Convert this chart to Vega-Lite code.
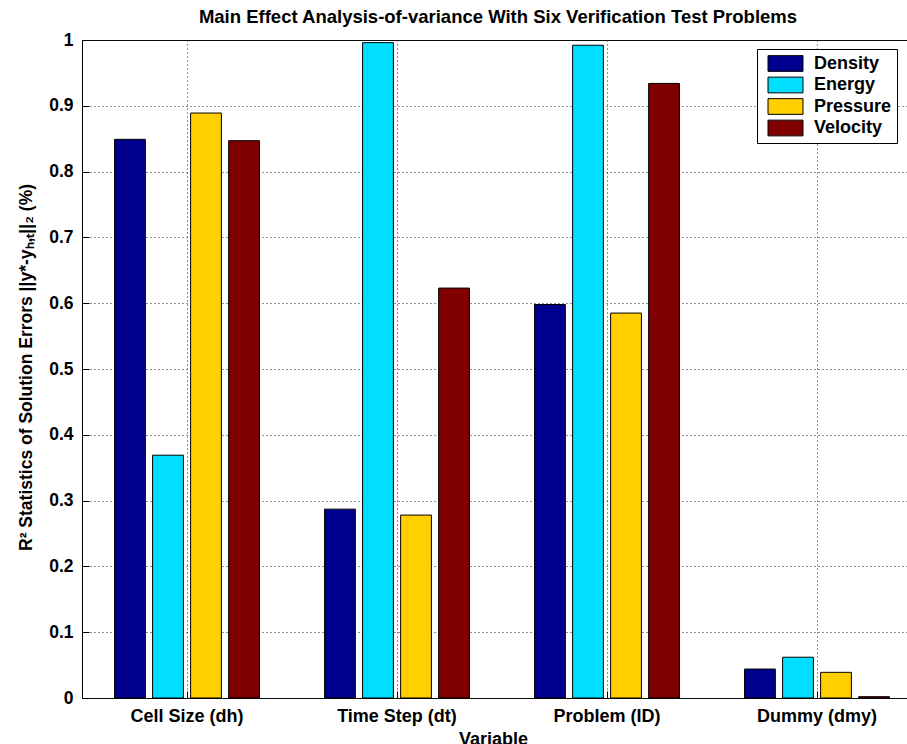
{
  "$schema": "https://vega.github.io/schema/vega-lite/v6.json",
  "width": 840,
  "height": 658,
  "autosize": "none",
  "padding": {"left": 82, "top": 40, "right": 0, "bottom": 46},
  "background": "white",
  "title": {
    "text": "Main Effect Analysis-of-variance With Six Verification Test Problems",
    "font": "Liberation Sans",
    "fontSize": 18.5,
    "fontWeight": "bold",
    "color": "black",
    "anchor": "middle",
    "frame": "group",
    "baseline": "alphabetic",
    "offset": 16,
    "dx": -4,
    "dy": 26
  },
  "config": {
    "view": {"stroke": "black", "strokeWidth": 1},
    "axis": {
      "labelFont": "Liberation Sans",
      "labelFontWeight": "bold",
      "labelColor": "black",
      "titleFont": "Liberation Sans",
      "titleFontWeight": "bold",
      "titleColor": "black",
      "domain": false,
      "tickColor": "black",
      "tickSize": -7,
      "grid": true,
      "gridColor": "#222222",
      "gridDash": [1, 3],
      "gridWidth": 1
    }
  },
  "data": {
    "values": [
      {"variable": "Cell Size (dh)", "quantity": "Density", "r2": 0.849},
      {"variable": "Cell Size (dh)", "quantity": "Energy", "r2": 0.369},
      {"variable": "Cell Size (dh)", "quantity": "Pressure", "r2": 0.889},
      {"variable": "Cell Size (dh)", "quantity": "Velocity", "r2": 0.847},
      {"variable": "Time Step (dt)", "quantity": "Density", "r2": 0.287},
      {"variable": "Time Step (dt)", "quantity": "Energy", "r2": 0.996},
      {"variable": "Time Step (dt)", "quantity": "Pressure", "r2": 0.278},
      {"variable": "Time Step (dt)", "quantity": "Velocity", "r2": 0.623},
      {"variable": "Problem (ID)", "quantity": "Density", "r2": 0.598},
      {"variable": "Problem (ID)", "quantity": "Energy", "r2": 0.992},
      {"variable": "Problem (ID)", "quantity": "Pressure", "r2": 0.585},
      {"variable": "Problem (ID)", "quantity": "Velocity", "r2": 0.934},
      {"variable": "Dummy (dmy)", "quantity": "Density", "r2": 0.044},
      {"variable": "Dummy (dmy)", "quantity": "Energy", "r2": 0.062},
      {"variable": "Dummy (dmy)", "quantity": "Pressure", "r2": 0.039},
      {"variable": "Dummy (dmy)", "quantity": "Velocity", "r2": 0.002}
    ]
  },
  "mark": {"type": "bar", "stroke": "black", "strokeWidth": 1, "opacity": 1},
  "encoding": {
    "x": {
      "field": "variable",
      "type": "nominal",
      "sort": ["Cell Size (dh)", "Time Step (dt)", "Problem (ID)", "Dummy (dmy)"],
      "scale": {"paddingInner": 0.31, "paddingOuter": 0.155},
      "axis": {
        "title": "Variable",
        "titleFontSize": 18,
        "titleX": 411,
        "titlePadding": 5,
        "labelFontSize": 18,
        "labelAngle": 0,
        "labelPadding": 16,
        "bandPosition": 0.5
      }
    },
    "xOffset": {
      "field": "quantity",
      "type": "nominal",
      "sort": ["Density", "Energy", "Pressure", "Velocity"],
      "scale": {"paddingInner": 0.19, "paddingOuter": 0}
    },
    "y": {
      "field": "r2",
      "type": "quantitative",
      "scale": {"domain": [0, 1], "nice": false},
      "axis": {
        "title": "R² Statistics of Solution Errors ||y*-yₕ,ₜ||₂ (%)",
        "titleFontSize": 17.5,
        "titleX": -51,
        "titleY": 327,
        "titleBaseline": "alphabetic",
        "titleAlign": "center",
        "values": [0, 0.1, 0.2, 0.3, 0.4, 0.5, 0.6, 0.7, 0.8, 0.9, 1],
        "format": "~g",
        "labelFontSize": 17.5,
        "labelPadding": 16
      }
    },
    "color": {
      "field": "quantity",
      "type": "nominal",
      "sort": ["Density", "Energy", "Pressure", "Velocity"],
      "scale": {
        "domain": ["Density", "Energy", "Pressure", "Velocity"],
        "range": ["#00008F", "#00DFFF", "#FFCF00", "#800000"]
      },
      "legend": {
        "title": null,
        "orient": "none",
        "legendX": 675,
        "legendY": 9,
        "strokeColor": "black",
        "fillColor": "white",
        "padding": 5,
        "symbolType": "M-2,-0.9H2V0.9H-2Z",
        "symbolSize": 306,
        "symbolOffset": 14,
        "symbolStrokeColor": "black",
        "symbolStrokeWidth": 1,
        "symbolOpacity": 1,
        "labelFont": "Liberation Sans",
        "labelFontWeight": "bold",
        "labelFontSize": 18,
        "labelColor": "black",
        "labelOffset": 19,
        "rowPadding": 0.5
      }
    }
  }
}
